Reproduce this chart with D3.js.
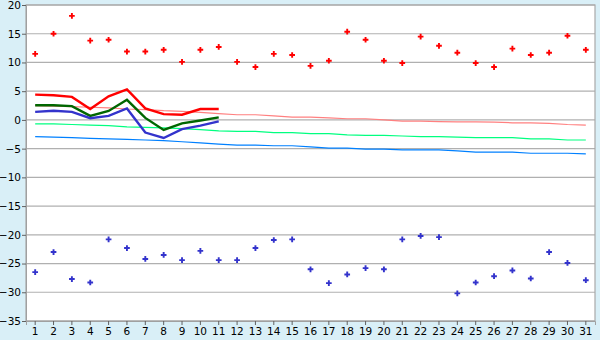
<!DOCTYPE html>
<html><head><meta charset="utf-8">
<script src="https://cdn.jsdelivr.net/npm/d3@7"></script>
<style>html,body{margin:0;padding:0;background:#d9eff7;}svg{display:block;}</style>
</head><body><svg id="c" width="600" height="340"></svg>
<script>
const days = d3.range(1, 32).map(String);
const yTicks = [20,15,10,5,0,-5,-10,-15,-20,-25,-30,-35];
// record max / min per day
const recMax = [11.5,15.0,18.1,13.8,13.95,11.9,11.9,12.2,10.1,12.2,12.7,10.1,9.2,11.5,11.3,9.4,10.3,15.35,13.95,10.3,9.9,14.5,12.9,11.7,9.9,9.2,12.4,11.3,11.7,14.65,12.2];
const recMin = [-26.5,-23.0,-27.7,-28.3,-20.8,-22.3,-24.2,-23.5,-24.4,-22.8,-24.4,-24.4,-22.3,-20.9,-20.8,-26.0,-28.4,-26.9,-25.8,-26.0,-20.8,-20.2,-20.4,-30.2,-28.3,-27.2,-26.2,-27.6,-23.0,-24.9,-27.9];
// current month (days 1-11)
const curMax  = [4.4,4.3,4.0,1.9,4.1,5.3,2.0,1.0,0.9,1.9,1.9];
const curMean = [2.55,2.55,2.4,0.7,1.55,3.5,0.35,-1.75,-0.6,-0.1,0.45];
const curMin  = [1.4,1.6,1.4,0.3,0.7,2.0,-2.2,-3.15,-1.6,-1.0,-0.25];
// normals
const normMax  = [2.5,2.4,2.3,2.2,2.1,1.9,1.8,1.6,1.5,1.3,1.1,0.9,0.9,0.7,0.5,0.5,0.35,0.2,0.2,0.0,-0.2,-0.2,-0.3,-0.35,-0.35,-0.4,-0.5,-0.5,-0.6,-0.8,-0.9];
const normMean = [-0.7,-0.7,-0.8,-0.9,-1.0,-1.2,-1.3,-1.4,-1.5,-1.7,-1.9,-2.0,-2.0,-2.2,-2.2,-2.4,-2.4,-2.6,-2.7,-2.7,-2.8,-2.9,-2.9,-3.0,-3.1,-3.1,-3.1,-3.3,-3.3,-3.5,-3.5];
const normMin  = [-2.9,-3.0,-3.1,-3.2,-3.3,-3.4,-3.5,-3.6,-3.8,-4.0,-4.2,-4.4,-4.4,-4.5,-4.5,-4.7,-4.9,-4.9,-5.1,-5.1,-5.2,-5.2,-5.2,-5.4,-5.6,-5.6,-5.6,-5.8,-5.8,-5.8,-5.9];

const L=26, R=595, T=5, B=321;
const svg = d3.select("#c");
const x = d3.scaleBand().domain(days).range([L, R]);
const y = d3.scaleLinear().domain([-35, 20]).range([B, T]);
const cx = i => x(days[i]) + x.bandwidth()/2;

svg.append("rect").attr("x",L).attr("y",T).attr("width",R-L).attr("height",B-T).attr("fill","#fff");
// grid
svg.append("g").selectAll("line").data(yTicks).join("line")
  .attr("x1",L).attr("x2",R).attr("y1",d=>y(d)).attr("y2",d=>y(d))
  .attr("stroke","#b0b0b0").attr("stroke-width",1.2);
svg.append("rect").attr("x",L).attr("y",T).attr("width",R-L).attr("height",B-T)
  .attr("fill","none").attr("stroke","#a8a8a8").attr("stroke-width",1.2);

// axes
const yAxis = d3.axisLeft(y).tickValues(yTicks).tickSize(4).tickPadding(1);
const gy = svg.append("g").attr("transform",`translate(${L},0)`).call(yAxis);
const xAxis = d3.axisBottom(x).tickSize(4).tickPadding(3);
const gx = svg.append("g").attr("transform",`translate(0,${B})`).call(xAxis);
[gy,gx].forEach(g=>{
  g.select(".domain").attr("stroke","#a0a0a0");
  g.selectAll(".tick line").attr("stroke","#606060");
  g.selectAll("text").attr("fill","#000").style("font-family","DejaVu Sans, Verdana, sans-serif").style("font-size","10.5px");
});

const line = d3.line().x((d,i)=>cx(i)).y(d=>y(d));
function drawLine(data,color,w){
  svg.append("path").datum(data).attr("d",line).attr("fill","none")
    .attr("stroke",color).attr("stroke-width",w).attr("stroke-linejoin","miter");
}
drawLine(normMax,"#ff8080",1.2);
drawLine(normMean,"#00ff80",1.2);
drawLine(normMin,"#0080ff",1.2);
drawLine(curMax,"#ff0000",2.4);
drawLine(curMean,"#006600",2.4);
drawLine(curMin,"#3333cc",2.4);

const sym = d3.symbol().type(d3.symbolCross).size(18);
function drawPts(data,color){
  svg.append("g").selectAll("path").data(data).join("path")
    .attr("transform",(d,i)=>`translate(${cx(i)},${y(d)})`)
    .attr("d",sym).attr("fill",color);
}
drawPts(recMax,"#ff0000");
drawPts(recMin,"#3333cc");
</script></body></html>
